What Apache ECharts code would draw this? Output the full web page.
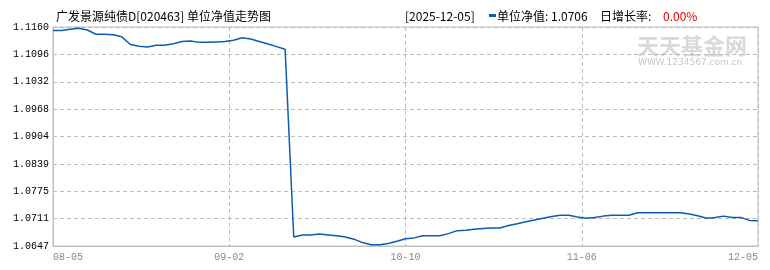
<!DOCTYPE html>
<html>
<head>
<meta charset="utf-8">
<script src="https://cdn.jsdelivr.net/npm/echarts@6/dist/echarts.min.js"></script>
<style>html,body{margin:0;padding:0;background:#fff}#c{width:770px;height:270px}</style>
</head>
<body>
<div id="c"></div>
<script>
// ---- data ----
const xTickLabels = ["08-05", "09-02", "10-10", "11-06", "12-05"];
const yTickLabels = ["1.0647", "1.0711", "1.0775", "1.0839", "1.0904", "1.0968", "1.1032", "1.1096", "1.1160"];
const navValues = [
  1.1152, 1.1152, 1.1155, 1.1157, 1.1153, 1.1143, 1.1143, 1.1142, 1.1137, 1.1119,
  1.1115, 1.1113, 1.1117, 1.1117, 1.1121, 1.1126, 1.1127, 1.1124, 1.1124, 1.1125,
  1.1126, 1.1129, 1.1135, 1.1132, 1.1126, 1.1120, 1.1114, 1.1108, 1.0668, 1.0673,
  1.0673, 1.0675, 1.0673, 1.0671, 1.0668, 1.0663, 1.0655, 1.0650, 1.0650, 1.0653,
  1.0658, 1.0664, 1.0666, 1.0671, 1.0671, 1.0671, 1.0676, 1.0683, 1.0684, 1.0686,
  1.0688, 1.0689, 1.0689, 1.0695, 1.0699, 1.0704, 1.0708, 1.0712, 1.0716, 1.0719,
  1.0719, 1.0715, 1.0712, 1.0714, 1.0717, 1.0719, 1.0719, 1.0719, 1.0725, 1.0725,
  1.0725, 1.0725, 1.0725, 1.0725, 1.0722, 1.0718, 1.0712, 1.0714, 1.0717, 1.0714,
  1.0714, 1.0707, 1.0706
];
const titleText = "广发景源纯债D[020463] 单位净值走势图";
const latestDate = "[2025-12-05]";
const latestNav = "1.0706";
const latestRate = "0.00%";

// ---- chart ----
const yMin = Number(yTickLabels[0]);
const yMax = Number(yTickLabels[yTickLabels.length - 1]);
const yStep = (yMax - yMin) / (yTickLabels.length - 1);
const yTicks = yTickLabels.map((_, i) => yMin + i * yStep);
const lastIdx = navValues.length - 1;
const xStep = lastIdx / (xTickLabels.length - 1);

const chart = echarts.init(document.getElementById('c'), null, {renderer: 'canvas'});
const mono = '"Liberation Mono", "DejaVu Sans Mono", monospace';
const cjk = '"Noto Sans CJK SC", "Noto Sans", sans-serif';
chart.setOption({
  animation: false,
  grid: {left: 53, top: 27, right: 12, bottom: 24, show: true, borderColor: '#c0c0c0', borderWidth: 1, backgroundColor: 'transparent'},
  xAxis: {
    type: 'value', min: 0, max: lastIdx, interval: xStep,
    axisLine: {show: true, lineStyle: {color: '#c0c0c0', width: 1}},
    axisTick: {show: false},
    splitLine: {show: true, lineStyle: {color: '#bbbbbb', type: [4, 3], width: 1}},
    axisLabel: {
      color: '#888', fontFamily: mono, fontSize: 10, margin: 6,
      alignMinLabel: 'left', alignMaxLabel: 'right',
      showMinLabel: true, showMaxLabel: true,
      formatter: v => xTickLabels[Math.round(v / xStep)] || ''
    }
  },
  yAxis: {
    type: 'value', min: yMin, max: yMax,
    axisLine: {show: true, lineStyle: {color: '#c0c0c0', width: 1}},
    axisTick: {show: false, customValues: yTicks},
    splitLine: {show: true, lineStyle: {color: '#bbbbbb', type: [4, 3], width: 1}},
    axisLabel: {
      color: '#000', fontFamily: mono, fontSize: 10, margin: 4,
      customValues: yTicks,
      formatter: v => yTickLabels[Math.round((v - yMin) / yStep)] || ''
    }
  },
  series: [{
    type: 'line',
    data: navValues.map((v, i) => [i, v]),
    showSymbol: false,
    lineStyle: {color: '#0e5cad', width: 1.5},
    itemStyle: {color: '#0e5cad'}
  }],
  graphic: [
    {type: 'text', left: 637, top: 35, z: 0, style: {text: '天天基金网', font: 'bold 22px ' + cjk, fill: '#d9d9d9'}},
    {type: 'text', left: 638, top: 58, z: 0, style: {text: 'WWW.1234567.com.cn', font: '9px "DejaVu Sans", sans-serif', fill: '#c8c8c8'}},
    {type: 'text', x: 56, y: 16, style: {text: titleText, font: '12px ' + cjk, fill: '#000', verticalAlign: 'middle'}},
    {type: 'text', x: 405, y: 16, style: {text: latestDate, font: '12px ' + cjk, fill: '#000', verticalAlign: 'middle'}},
    {type: 'rect', shape: {x: 489, y: 14, width: 7, height: 3}, style: {fill: '#0e5cad'}},
    {type: 'text', x: 497, y: 16, style: {text: '单位净值: ' + latestNav, font: '12px ' + cjk, fill: '#000', verticalAlign: 'middle'}},
    {type: 'text', x: 600, y: 16, style: {text: '日增长率: ', font: '12px ' + cjk, fill: '#000', verticalAlign: 'middle'}},
    {type: 'text', x: 663, y: 16, style: {text: latestRate, font: '12px ' + cjk, fill: '#e00000', verticalAlign: 'middle'}}
  ]
});
</script>
</body>
</html>
